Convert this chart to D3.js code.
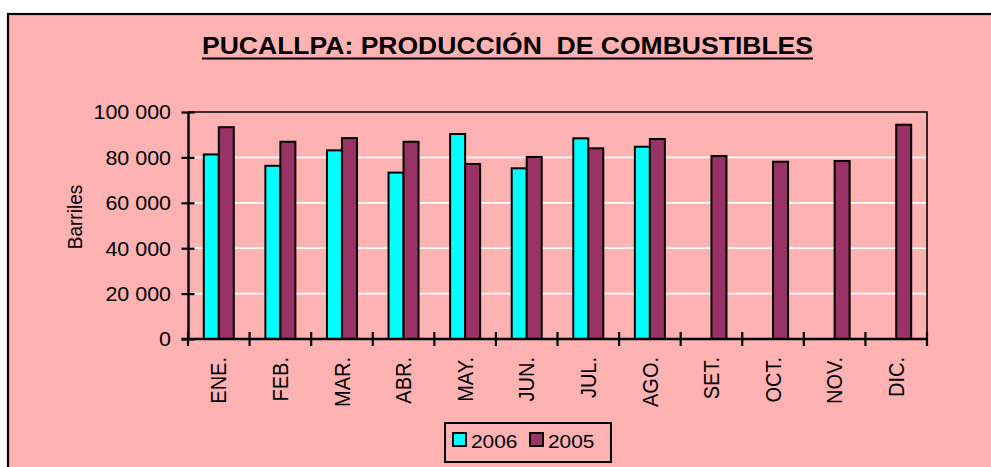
<!DOCTYPE html>
<html>
<head>
<meta charset="utf-8">
<script src="https://cdn.jsdelivr.net/npm/d3@7"></script>
<style>
  body { margin: 0; background: #fff; }
  svg { display: block; font-family: Arial, "Liberation Sans", sans-serif; }
</style>
</head>
<body>
<svg id="chart" width="991" height="467"></svg>
<script>
// data
const months = ['ENE.', 'FEB.', 'MAR.', 'ABR.', 'MAY.', 'JUN.', 'JUL.', 'AGO.', 'SET.', 'OCT.', 'NOV.', 'DIC.'];
const series = ['2006', '2005'];
const values2006 = [81300, 76300, 83100, 73300, 90300, 75200, 88400, 84700, null, null, null, null];
const values2005 = [93300, 86900, 88500, 86900, 77100, 80200, 84000, 88100, 80600, 78100, 78400, 94400];
const yTicks = [0, 20000, 40000, 60000, 80000, 100000];

const colors = { '2006': '#00FFFF', '2005': '#993366' };
const bg = '#FFB2B2';
const sx = 1.1; // the picture is a bit stretched sideways

const svg = d3.select('#chart');
const plot = { left: 188, right: 927, top: 112, bottom: 339 };

// outer chart area
svg.append('rect')
  .attr('x', 8).attr('y', 14)
  .attr('width', 1000).attr('height', 480)
  .attr('fill', bg)
  .attr('stroke', '#000')
  .attr('stroke-width', 2.2);

// title
svg.append('text')
  .attr('x', 202).attr('y', 53.5)
  .attr('textLength', 611)
  .attr('lengthAdjust', 'spacingAndGlyphs')
  .attr('font-size', 23.5)
  .attr('font-weight', 'bold')
  .style('white-space', 'pre')
  .text('PUCALLPA: PRODUCCIÓN  DE COMBUSTIBLES');
svg.append('line')
  .attr('x1', 202).attr('x2', 813)
  .attr('y1', 58.5).attr('y2', 58.5)
  .attr('stroke', '#000').attr('stroke-width', 2.2);

const x = d3.scaleBand()
  .domain(months)
  .range([plot.left, plot.right]);

const xSub = d3.scaleBand()
  .domain(series)
  .range([0, 30]);

const y = d3.scaleLinear()
  .domain([0, 100000])
  .range([plot.bottom, plot.top]);

// gridlines
svg.append('g')
  .selectAll('line')
  .data(yTicks.filter(t => t > 0 && t < 100000))
  .enter()
  .append('line')
    .attr('x1', plot.left).attr('x2', plot.right)
    .attr('y1', d => y(d)).attr('y2', d => y(d))
    .attr('stroke', '#fff')
    .attr('stroke-width', 1.8);

// plot border (top and right)
svg.append('path')
  .attr('d', `M${plot.left},${y(100000)}H${plot.right}V${plot.bottom}`)
  .attr('fill', 'none')
  .attr('stroke', '#000')
  .attr('stroke-width', 1.6);

// bars
const rows = [];
months.forEach((m, i) => {
  rows.push({ month: m, key: '2006', value: values2006[i] });
  rows.push({ month: m, key: '2005', value: values2005[i] });
});

svg.append('g')
  .selectAll('rect')
  .data(rows.filter(d => d.value != null))
  .enter()
  .append('rect')
    .attr('x', d => x(d.month) + x.bandwidth() / 2 - 15 + xSub(d.key))
    .attr('width', xSub.bandwidth())
    .attr('y', d => y(d.value))
    .attr('height', d => y(0) - y(d.value))
    .attr('fill', d => colors[d.key])
    .attr('stroke', '#000')
    .attr('stroke-width', 2);

// y axis
const yAxis = svg.append('g')
  .attr('transform', `translate(${plot.left},0)`)
  .call(d3.axisLeft(y)
    .tickValues(yTicks)
    .tickSizeInner(6.5)
    .tickSizeOuter(0)
    .tickPadding(13)
    .tickFormat(d => d3.format(',')(d).replace(/,/g, ' ')));
yAxis.select('.domain').attr('stroke-width', 2.5);
yAxis.selectAll('.tick line')
  .attr('x1', -6.5).attr('x2', 6.5)
  .attr('stroke-width', 2.2);
yAxis.selectAll('.tick text')
  .attr('font-size', 19.5)
  .attr('font-family', 'Arial, "Liberation Sans", sans-serif')
  .attr('fill', '#000')
  .attr('x', null)
  .attr('dy', '0.35em')
  .attr('transform', `translate(${-17},0) scale(${sx},1)`);

// x axis with crossing ticks at category edges
const xAxis = svg.append('g')
  .attr('transform', `translate(0,${plot.bottom})`);
xAxis.append('line')
  .attr('x1', plot.left - 6.5).attr('x2', plot.right)
  .attr('stroke', '#000').attr('stroke-width', 2.5);
xAxis.selectAll('.edge')
  .data(months.concat(['end']))
  .enter()
  .append('line')
    .attr('class', 'edge')
    .attr('x1', (d, i) => i < months.length ? x(d) : plot.right)
    .attr('x2', (d, i) => i < months.length ? x(d) : plot.right)
    .attr('y1', -7).attr('y2', 7)
    .attr('stroke', '#000').attr('stroke-width', 2.2);
xAxis.selectAll('.lbl')
  .data(months)
  .enter()
  .append('text')
    .attr('class', 'lbl')
    .attr('transform', d => `translate(${x(d) + x.bandwidth() / 2},${18}) scale(${sx},1) rotate(-90)`)
    .attr('text-anchor', 'end')
    .attr('dy', '0.35em')
    .attr('font-size', 20)
    .text(d => d);

// y axis title
svg.append('text')
  .attr('transform', `translate(75,217) scale(${sx},1) rotate(-90)`)
  .attr('text-anchor', 'middle')
  .attr('dy', '0.35em')
  .attr('font-size', 19)
  .text('Barriles');

// legend
const legend = svg.append('g');
legend.append('rect')
  .attr('x', 445).attr('y', 423)
  .attr('width', 166).attr('height', 39)
  .attr('fill', bg)
  .attr('stroke', '#000').attr('stroke-width', 2);

const legendX = { '2006': 453, '2005': 530 };
const items = legend.selectAll('.item')
  .data(series)
  .enter()
  .append('g')
    .attr('class', 'item')
    .attr('transform', d => `translate(${legendX[d]},433)`);
items.append('rect')
  .attr('width', 13).attr('height', 13)
  .attr('fill', d => colors[d])
  .attr('stroke', '#000').attr('stroke-width', 2);
items.append('text')
  .attr('transform', `translate(18,14.5) scale(${sx},1)`)
  .attr('font-size', 19)
  .text(d => d);
</script>
</body>
</html>
